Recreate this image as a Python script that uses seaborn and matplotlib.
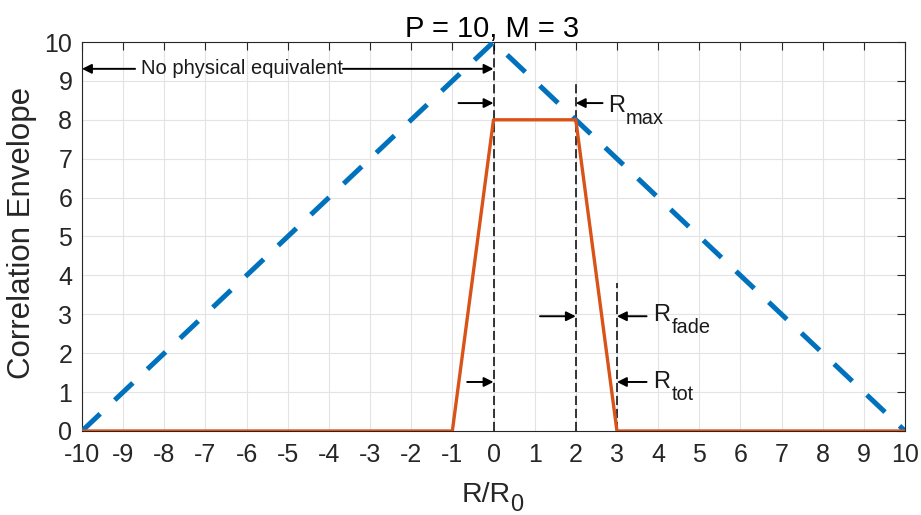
import matplotlib
matplotlib.use("Agg")
import matplotlib.pyplot as plt
import seaborn as sns
import pandas as pd

# ---- data ----
blue_x = [-10, 0, 10]
blue_y = [0, 10, 0]
orange_x = [-10, -1, 0, 2, 3, 10]
orange_y = [0, 0, 8, 8, 0, 0]
vline_x = [0, 2, 3]
vline_top = [10, 9, 3.8]
x_ticks = list(range(-10, 11))
y_ticks = list(range(0, 11))
title = "P = 10, M = 3"
xlabel_main, xlabel_sub = "R/R", "0"
ylabel = "Correlation Envelope"
note_text = "No physical equivalent"
r_labels = [("R", "max"), ("R", "fade"), ("R", "tot")]

sns.set_style("white")
plt.rcParams["font.family"] = ["Liberation Sans", "DejaVu Sans"]

W, H = 921, 515
fig = plt.figure(figsize=(W / 100, H / 100), dpi=100)
ax = fig.add_axes([82 / W, 1 - 431 / H, (905 - 82) / W, (431 - 42) / H])

df_b = pd.DataFrame({"x": blue_x, "y": blue_y})
df_o = pd.DataFrame({"x": orange_x, "y": orange_y})
sns.lineplot(data=df_b, x="x", y="y", ax=ax, color="#0072BD", lw=3.6,
             sort=False, estimator=None, zorder=3)
ax.lines[-1].set_dashes((5, 4))
ax.lines[-1].set_dash_capstyle("butt")
sns.lineplot(data=df_o, x="x", y="y", ax=ax, color="#D95319", lw=2.4,
             sort=False, estimator=None, zorder=3)
ax.set_xlabel("")
ax.set_ylabel("")

for vx, vt in zip(vline_x, vline_top):
    ax.plot([vx, vx], [0, vt], color="black", lw=1.1, ls=(0, (6, 2.5)), zorder=2)

ap = dict(arrowstyle="-|>", color="black", lw=1.4, mutation_scale=14,
          shrinkA=0, shrinkB=0)
# No physical equivalent
ax.text(-6.12, 9.31, note_text, ha="center", va="center", fontsize=14.5,
        color="#1a1a1a")
ax.annotate("", xy=(-10, 9.31), xytext=(-8.71, 9.31), arrowprops=ap)
ax.annotate("", xy=(0, 9.31), xytext=(-3.66, 9.31), arrowprops=ap)

# arrow pairs
ax.annotate("", xy=(0, 8.43), xytext=(-0.85, 8.43), arrowprops=ap)
ax.annotate("", xy=(2, 8.43), xytext=(2.65, 8.43), arrowprops=ap)
ax.annotate("", xy=(2, 2.95), xytext=(1.13, 2.95), arrowprops=ap)
ax.annotate("", xy=(3, 2.95), xytext=(3.72, 2.95), arrowprops=ap)
ax.annotate("", xy=(0, 1.26), xytext=(-0.64, 1.26), arrowprops=ap)
ax.annotate("", xy=(3, 1.26), xytext=(3.72, 1.26), arrowprops=ap)

# R labels (main letter + lowered subscript)
r_pos = [(2.78, 8.20), (3.89, 2.83), (3.89, 1.10)]
for (main, sub), (lx, ly) in zip(r_labels, r_pos):
    ax.text(lx, ly, main, ha="left", va="baseline", fontsize=17, color="#1a1a1a")
    ax.annotate(sub, xy=(lx, ly), xytext=(18, -12), textcoords="offset pixels",
                ha="left", va="baseline", fontsize=14.4, color="#1a1a1a")

ax.set_xlim(-10, 10)
ax.set_ylim(0, 10)
ax.set_xticks(x_ticks)
ax.set_yticks(y_ticks)
ax.set_xticklabels([str(t) for t in x_ticks])
ax.set_yticklabels([str(t) for t in y_ticks])
ax.grid(True, color="#e3e3e3", lw=0.8)
ax.set_axisbelow(True)
ax.tick_params(direction="in", length=6, width=0.8, labelsize=18,
               top=True, right=True, colors="#262626")
ax.tick_params(axis="x", pad=9)
ax.tick_params(axis="y", pad=7)
for s in ax.spines.values():
    s.set_color("#262626")
    s.set_linewidth(0.8)

fig.text(492 / W, 1 - 37 / H, title, ha="center", va="baseline", fontsize=21,
         color="black")
fig.text(462 / W, 1 - 502 / H, xlabel_main, ha="left", va="baseline",
         fontsize=20.5, color="#262626")
fig.text(510 / W, 1 - 511 / H, xlabel_sub, ha="left", va="baseline",
         fontsize=17, color="#262626")
fig.text(22 / W, 1 - 233 / H, ylabel, ha="center", va="center", rotation=90,
         fontsize=22.5, color="#262626")

fig.savefig("out.png", dpi=100)
